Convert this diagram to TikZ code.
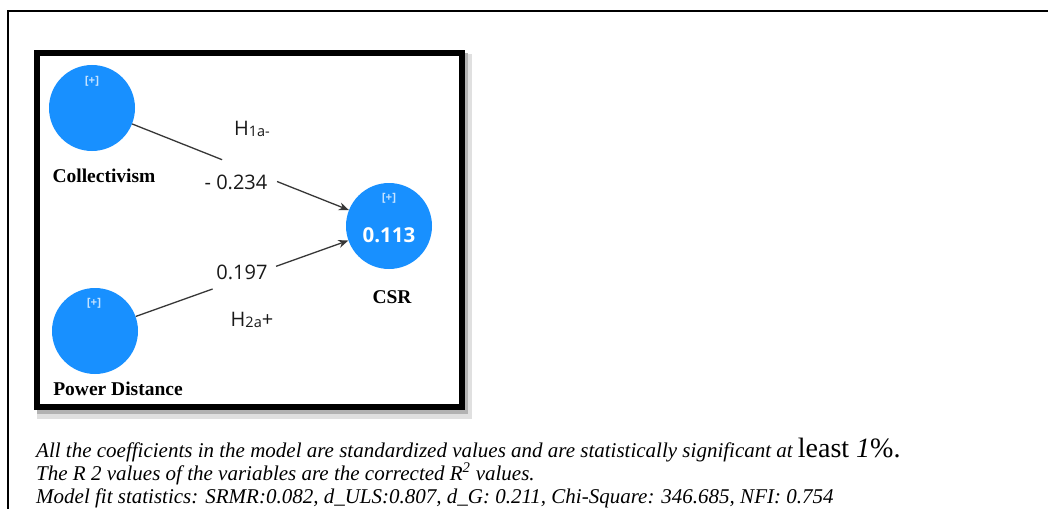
\documentclass[tikz,border=0pt]{standalone}
\usepackage{fontspec}
\setmainfont{Liberation Serif}
\newfontfamily\osans{Open Sans}
\usetikzlibrary{calc,arrows.meta}
\definecolor{plsblue}{RGB}{24,144,255}
\definecolor{edgegray}{RGB}{55,55,55}
\begin{document}
\begin{tikzpicture}[x=1pt,y=-1pt,
  circ/.style={circle, fill=plsblue, minimum size=86pt, inner sep=0pt},
  plus/.style={font=\osans\bfseries\fontsize{11.5}{11.5}\selectfont, text=white!75!plsblue, inner sep=0pt},
  rsq/.style={font=\osans\bfseries\fontsize{20.5}{20.5}\selectfont, text=white, inner sep=0pt},
  lbl/.style={font=\bfseries\fontsize{19.5}{19.5}\selectfont, inner sep=0pt},
  elbl/.style={font=\osans\fontsize{20}{20}\selectfont, text=black!90, inner sep=0pt},
  conn/.style={draw=edgegray, line width=1.3pt},
  note/.style={anchor=base west, inner sep=0pt, font=\itshape\fontsize{21}{21}\selectfont}
]
\useasboundingbox (0,0) rectangle (1048,508);
% outer frame
\draw[line width=1.6pt] (8,520) -- (8,11) -- (1060,11);
% inner framed panel with shadow
\draw[line width=10pt, black!12] (42,59) rectangle (467,414);
\draw[line width=6pt, black!30] (40,56) rectangle (465,411);
\fill[white] (40,56) rectangle (459,404);
\draw[line width=6pt, black] (37,53) rectangle (462,407);
% constructs
\node[circ] (col) at (92,108) {};
\node[circ] (pd) at (95,331) {};
\node[circ] (csr) at (389,226) {};
\node[plus] (colp) at (92,81) {[+]};
\node[plus] (pdp) at (94,303) {[+]};
\node[plus] (csrp) at (389,198) {[+]};
\node[rsq] (csrv) at (389,235) {0.113};
\node[lbl] (coll) at (104,176) {Collectivism};
\node[lbl] (pdl) at (118,389) {Power Distance};
\node[lbl] (csrl) at (392,297) {CSR};
% path coordinates
\coordinate (g1a) at ($(col.center)!0.438!(csr.center)$);
\coordinate (g1b) at ($(col.center)!0.623!(csr.center)$);
\coordinate (g2a) at ($(pd.center)!0.40!(csr.center)$);
\coordinate (g2b) at ($(pd.center)!0.616!(csr.center)$);
\draw[conn] (col) -- (g1a);
\draw[conn, -{Stealth[length=10pt,width=8pt]}] (g1b) -- (csr);
\draw[conn] (pd) -- (g2a);
\draw[conn, -{Stealth[length=10pt,width=8pt]}] (g2b) -- (csr);
% path labels
\node[elbl] (e1) at (236,182) {- 0.234};
\node[elbl] (e2) at (242,272) {0.197};
\node[elbl] (h1) at (252,129) {H\raisebox{-1pt}{\fontsize{14.5}{14.5}\selectfont 1a-}};
\node[elbl] (h2) at (252,320) {H\raisebox{-1pt}{\fontsize{14.5}{14.5}\selectfont 2a}+};
% notes
\node[note] (n1) at (36,457) {All the coefficients in the model are standardized values and are statistically significant at {\upshape\fontsize{28}{28}\selectfont least \textit{1}\%.}};
\node[note] (n2) at (36,480) {The R 2 values of the variables are the corrected R\textsuperscript{2} values.};
\node[note] (n3) at (36,503) {Model fit statistics: SRMR:0.082, d\_ULS:0.807, d\_G: 0.211, Chi-Square: 346.685, NFI: 0.754};
\end{tikzpicture}
\end{document}
